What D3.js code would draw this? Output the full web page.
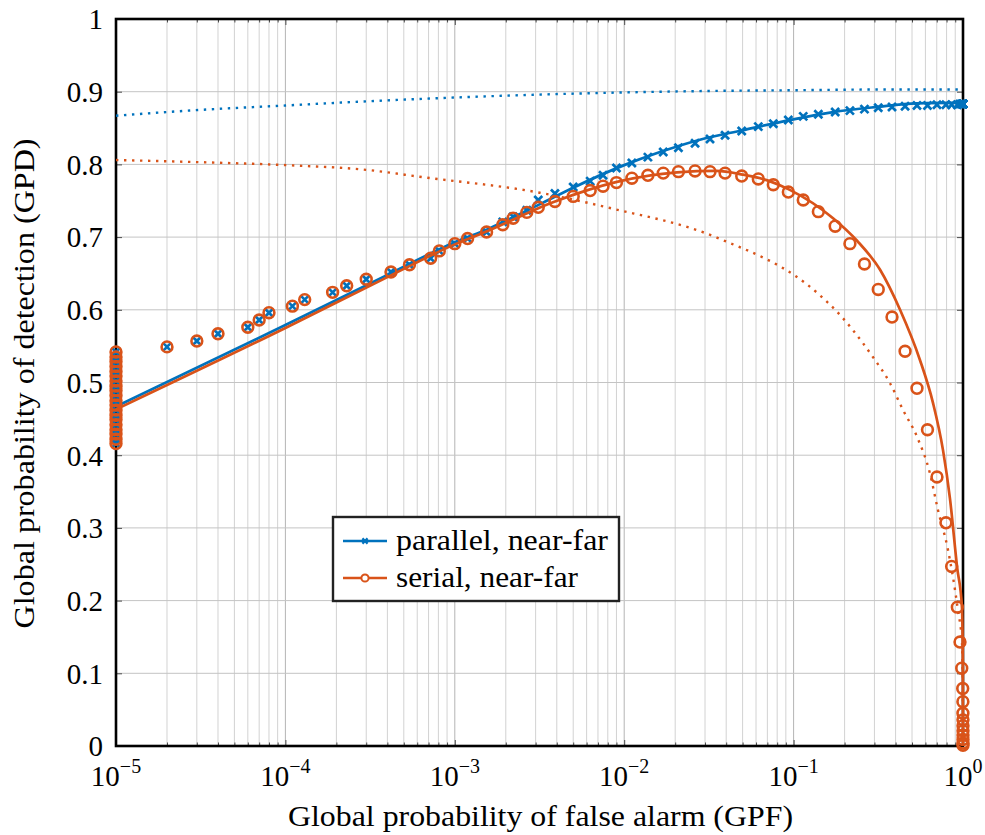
<!DOCTYPE html>
<html>
<head>
<meta charset="utf-8">
<script src="https://cdn.jsdelivr.net/npm/d3@7"></script>
<style>
  html, body { margin: 0; padding: 0; background: #fff; }
  svg { display: block; }
  svg text { font-family: "Liberation Serif", "Times New Roman", Tinos, "DejaVu Serif", "Noto Serif", serif; }
</style>
</head>
<body>
<svg id="chart" width="985" height="835"></svg>
<script>
// ---- Simulated operating points ----
// Points stacked at the smallest resolvable false-alarm probability
const floorGPF = 1e-5;
const floorGPD = [0.542, 0.535, 0.529, 0.522, 0.515, 0.509, 0.502, 0.495, 0.489, 0.482,
                  0.475, 0.469, 0.462, 0.455, 0.449, 0.442, 0.435, 0.429, 0.422, 0.416];

// Shared false-alarm levels of the remaining simulated points
const simGPF = [2e-5, 3e-5, 4e-5, 6e-5, 7e-5, 8e-5, 1.1e-4, 1.3e-4, 1.9e-4, 2.3e-4,
                3.0e-4, 4.2e-4, 5.4e-4, 7.2e-4, 8.1e-4, 1.0e-3, 1.19e-3, 1.54e-3, 1.92e-3, 2.21e-3,
                2.66e-3, 3.11e-3, 3.9e-3, 5.0e-3, 6.3e-3, 7.5e-3, 9.0e-3, 1.11e-2, 1.38e-2, 1.70e-2,
                2.09e-2, 2.62e-2, 3.21e-2, 3.94e-2, 4.94e-2, 6.19e-2, 7.59e-2, 9.31e-2, 0.114, 0.140,
                0.176, 0.215, 0.262, 0.316, 0.381, 0.455, 0.535, 0.617, 0.702, 0.793,
                0.857, 0.926, 0.960, 0.983, 0.996, 0.9985, 0.999, 0.9995, 0.9998, 1,
                1, 1, 1, 1];

const parallelSimGPD = [0.549, 0.557, 0.567, 0.576, 0.586, 0.596, 0.605, 0.614, 0.624, 0.633,
                        0.642, 0.652, 0.662, 0.671, 0.681, 0.691, 0.698, 0.707, 0.721, 0.728,
                        0.737, 0.751, 0.760, 0.769, 0.777, 0.785, 0.795, 0.802, 0.810, 0.817,
                        0.823, 0.829, 0.835, 0.840, 0.846, 0.852, 0.856, 0.861, 0.866, 0.869,
                        0.872, 0.874, 0.876, 0.878, 0.879, 0.880, 0.881, 0.881, 0.882, 0.882,
                        0.882, 0.882, 0.883, 0.883, 0.883, 0.883, 0.883, 0.883, 0.883, 0.883,
                        0.883, 0.883, 0.883, 0.883];

const serialSimGPD = [0.549, 0.557, 0.567, 0.576, 0.586, 0.596, 0.605, 0.614, 0.624, 0.633,
                      0.642, 0.652, 0.662, 0.671, 0.681, 0.691, 0.698, 0.707, 0.717, 0.726,
                      0.734, 0.741, 0.749, 0.756, 0.764, 0.770, 0.775, 0.781, 0.785, 0.788,
                      0.790, 0.791, 0.790, 0.788, 0.784, 0.780, 0.772, 0.762, 0.751, 0.735,
                      0.715, 0.691, 0.663, 0.628, 0.590, 0.543, 0.492, 0.435, 0.370, 0.307,
                      0.247, 0.191, 0.143, 0.107, 0.079, 0.061, 0.045, 0.036, 0.028, 0.021,
                      0.015, 0.009, 0.004, 0.001];

// ---- Analytic ROC curves ----
const parallelCurveGPF = [1e-5, 1e-4, 4e-4, 1e-3, 1.6e-3, 3.16e-3, 5e-3, 1e-2, 1.58e-2, 2.8e-2,
                          5e-2, 9.5e-2, 0.171, 0.31, 0.535, 1];
const parallelCurveGPD = [0.467, 0.579, 0.648, 0.693, 0.712, 0.745, 0.768, 0.799, 0.816, 0.834,
                          0.847, 0.861, 0.872, 0.879, 0.884, 0.885];

const serialCurveGPF = [1e-5, 1e-4, 4e-4, 1e-3, 1.55e-3, 3.8e-3, 9.06e-3, 2.05e-2, 3.5e-2, 5e-2,
                        7e-2, 9.5e-2, 0.171, 0.237, 0.324, 0.425, 0.557, 0.665, 0.762, 0.838,
                        0.923, 0.986, 0.997, 1];
const serialCurveGPD = [0.463, 0.575, 0.645, 0.690, 0.708, 0.748, 0.776, 0.789, 0.791, 0.786,
                        0.778, 0.765, 0.726, 0.695, 0.655, 0.600, 0.531, 0.472, 0.407, 0.340,
                        0.246, 0.191, 0.120, 0];

// ---- Dotted reference curves ----
const parallelRefGPF = [1e-5, 3.16e-5, 1e-4, 3.16e-4, 1e-3, 3.16e-3, 1e-2, 3.16e-2, 0.1, 0.316, 1];
const parallelRefGPD = [0.867, 0.875, 0.881, 0.887, 0.892, 0.896, 0.899, 0.901, 0.902, 0.903, 0.903];

const serialRefGPF = [1e-5, 3.16e-5, 1e-4, 3.16e-4, 6.2e-4, 3.18e-3, 8.24e-3, 3.55e-2, 0.143,
                      0.193, 0.224, 0.294, 0.371, 0.443, 0.536, 0.638, 0.711, 0.815, 0.933,
                      0.986, 0.996, 1];
const serialRefGPD = [0.806, 0.803, 0.799, 0.792, 0.783, 0.761, 0.740, 0.699, 0.620,
                      0.590, 0.572, 0.535, 0.499, 0.462, 0.425, 0.375, 0.325, 0.270, 0.187,
                      0.142, 0.080, 0];

// ---- Axes ----
const xTickExponents = [-5, -4, -3, -2, -1, 0];
const yTickValues = [0, 0.1, 0.2, 0.3, 0.4, 0.5, 0.6, 0.7, 0.8, 0.9, 1];
const xTitle = "Global probability of false alarm (GPF)";
const yTitle = "Global probability of detection (GPD)";
const seriesNames = ["parallel, near-far", "serial, near-far"];

const BLUE = "#0072BD";
const ORANGE = "#D95319";

const plot = { left: 116, right: 963, top: 19, bottom: 746 };

const svg = d3.select("#chart");
const x = d3.scaleLog().domain([1e-5, 1]).range([plot.left, plot.right]);
const y = d3.scaleLinear().domain([0, 1]).range([plot.bottom, plot.top]);

// ---- Grid ----
const majorX = xTickExponents.map(e => Math.pow(10, e));
const minorX = [];
for (let e = -5; e < 0; e++) for (let k = 2; k <= 9; k++) minorX.push(k * Math.pow(10, e));

const grid = svg.append("g");
grid.selectAll("line.minor").data(minorX).join("line")
  .attr("x1", d => x(d)).attr("x2", d => x(d))
  .attr("y1", plot.top).attr("y2", plot.bottom)
  .attr("stroke", "#d2d2d2").attr("stroke-width", 1);
grid.selectAll("line.majx").data(majorX).join("line")
  .attr("x1", d => x(d)).attr("x2", d => x(d))
  .attr("y1", plot.top).attr("y2", plot.bottom)
  .attr("stroke", "#b4b4b4").attr("stroke-width", 1);
grid.selectAll("line.majy").data(yTickValues).join("line")
  .attr("x1", plot.left).attr("x2", plot.right)
  .attr("y1", d => y(d)).attr("y2", d => y(d))
  .attr("stroke", "#c4c4c4").attr("stroke-width", 1);

// ---- Inward ticks on all four sides ----
function styleAxis(g) {
  g.select(".domain").remove();
  g.attr("font-family", null);
  g.selectAll(".tick line").attr("stroke", "#4d4d4d").attr("stroke-width", 1);
}
svg.append("g").attr("transform", `translate(0,${plot.bottom})`)
  .call(d3.axisBottom(x).tickValues(majorX).tickSize(-6).tickFormat("")).call(styleAxis);
svg.append("g").attr("transform", `translate(0,${plot.bottom})`)
  .call(d3.axisBottom(x).tickValues(minorX).tickSize(-3.5).tickFormat("")).call(styleAxis);
svg.append("g").attr("transform", `translate(0,${plot.top})`)
  .call(d3.axisTop(x).tickValues(majorX).tickSize(-6).tickFormat("")).call(styleAxis);
svg.append("g").attr("transform", `translate(0,${plot.top})`)
  .call(d3.axisTop(x).tickValues(minorX).tickSize(-3.5).tickFormat("")).call(styleAxis);
svg.append("g").attr("transform", `translate(${plot.right},0)`)
  .call(d3.axisRight(y).tickValues(yTickValues).tickSize(-6).tickFormat("")).call(styleAxis);

const yAxis = svg.append("g").attr("transform", `translate(${plot.left},0)`)
  .call(d3.axisLeft(y).tickValues(yTickValues).tickSize(-6).tickPadding(13).tickFormat(d3.format("~g")))
  .call(styleAxis);
yAxis.selectAll(".tick text")
  .attr("font-size", 29).attr("fill", "#000").attr("dy", "0.34em");

// x tick labels as powers of ten
const xLab = svg.append("g");
xTickExponents.forEach(e => {
  const t = xLab.append("text")
    .attr("x", x(Math.pow(10, e))).attr("y", 786)
    .attr("text-anchor", "middle")
    .attr("font-size", 29).attr("fill", "#000");
  t.append("tspan").text("10");
  t.append("tspan").attr("dy", -13).attr("font-size", 20)
    .text(e < 0 ? "\u2212" + Math.abs(e) : String(e));
});

// Axis titles
svg.append("text")
  .attr("x", (plot.left + plot.right) / 2 + 1).attr("y", 826)
  .attr("text-anchor", "middle")
  .attr("font-size", 29).attr("fill", "#000")
  .attr("textLength", 505).attr("lengthAdjust", "spacingAndGlyphs")
  .text(xTitle);
svg.append("text")
  .attr("transform", `translate(34,${(plot.top + plot.bottom) / 2 + 1}) rotate(-90)`)
  .attr("text-anchor", "middle")
  .attr("font-size", 29).attr("fill", "#000")
  .attr("textLength", 490).attr("lengthAdjust", "spacingAndGlyphs")
  .text(yTitle);

// ---- Frame ----
svg.append("rect")
  .attr("x", plot.left).attr("y", plot.top)
  .attr("width", plot.right - plot.left).attr("height", plot.bottom - plot.top)
  .attr("fill", "none").attr("stroke", "#000").attr("stroke-width", 2.6);

// ---- Data ----
const zip = (xs, ys) => xs.map((v, i) => [v, ys[i]]);
const smooth = d3.line().x(d => x(d[0])).y(d => y(d[1])).curve(d3.curveMonotoneX);
const data = svg.append("g");

data.append("path").datum(zip(parallelRefGPF, parallelRefGPD))
  .attr("d", smooth).attr("fill", "none").attr("stroke", BLUE)
  .attr("stroke-width", 2.4).attr("stroke-dasharray", "2.4,5.6");
data.append("path").datum(zip(serialRefGPF, serialRefGPD))
  .attr("d", smooth).attr("fill", "none").attr("stroke", ORANGE)
  .attr("stroke-width", 2.4).attr("stroke-dasharray", "2.4,5.6");

const crossPath = s => `M${-s},${-s}L${s},${s}M${-s},${s}L${s},${-s}`;

const parallelPts = floorGPD.map(v => [floorGPF, v]).concat(zip(simGPF, parallelSimGPD));
const serialPts = floorGPD.map(v => [floorGPF, v]).concat(zip(simGPF, serialSimGPD));

data.append("path").datum(zip(parallelCurveGPF, parallelCurveGPD))
  .attr("d", smooth).attr("fill", "none").attr("stroke", BLUE).attr("stroke-width", 2.7);
data.append("g").selectAll("path").data(parallelPts).join("path")
  .attr("transform", d => `translate(${x(d[0])},${y(d[1])})`)
  .attr("d", crossPath(4)).attr("fill", "none")
  .attr("stroke", BLUE).attr("stroke-width", 2.7);

data.append("path").datum(zip(serialCurveGPF, serialCurveGPD))
  .attr("d", smooth).attr("fill", "none").attr("stroke", ORANGE).attr("stroke-width", 2.7);
data.append("g").selectAll("circle").data(serialPts).join("circle")
  .attr("cx", d => x(d[0])).attr("cy", d => y(d[1])).attr("r", 5.4)
  .attr("fill", "none").attr("stroke", ORANGE).attr("stroke-width", 2.6);

// ---- Legend ----
const lg = svg.append("g");
lg.append("rect").attr("x", 333).attr("y", 517).attr("width", 286).attr("height", 84)
  .attr("fill", "#fff").attr("stroke", "#222").attr("stroke-width", 2.4);
const entries = [
  { name: seriesNames[0], color: BLUE, mark: "cross", cy: 541, width: 212 },
  { name: seriesNames[1], color: ORANGE, mark: "circle", cy: 578, width: 182 }
];
entries.forEach(en => {
  lg.append("line").attr("x1", 343).attr("x2", 387).attr("y1", en.cy).attr("y2", en.cy)
    .attr("stroke", en.color).attr("stroke-width", 2.6);
  if (en.mark === "cross") {
    lg.append("path").attr("transform", `translate(365,${en.cy})`)
      .attr("d", crossPath(2.6)).attr("stroke", en.color).attr("stroke-width", 2.2).attr("fill", "none");
  } else {
    lg.append("circle").attr("cx", 365).attr("cy", en.cy).attr("r", 3.6)
      .attr("fill", "#fff").attr("stroke", en.color).attr("stroke-width", 2);
  }
  lg.append("text").attr("x", 396).attr("y", en.cy + 9)
    .attr("font-size", 29).attr("fill", "#000")
    .attr("textLength", en.width).attr("lengthAdjust", "spacingAndGlyphs")
    .text(en.name);
});
</script>
</body>
</html>
